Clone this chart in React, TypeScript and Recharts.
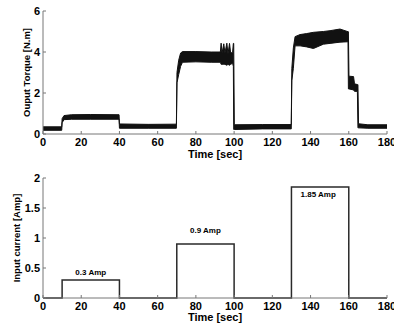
import { ComposedChart, Area, Line, XAxis, YAxis, ReferenceDot } from "recharts";

// top panel: torque envelope (lower / upper edge of the noisy trace)
const torqueTime = [
  0, 9.8, 10, 11, 15, 25, 39.8, 40, 55, 69.8,
  70.1, 71, 72, 73, 80, 88, 92.8, 93.2, 93.7, 94.6,
  95.2, 96.2, 96.8, 97.6, 98.2, 99.2, 99.6, 99.8, 100.1, 115,
  129.9, 130.2, 131, 131.9, 134.5, 138, 141.5, 146.7, 150.2, 155.4,
  159.6, 159.8, 160.1, 162.5, 163, 164.5, 164.8, 165.1, 170, 180,
];
const torqueLow = [
  0.18, 0.18, 0.55, 0.7, 0.72, 0.72, 0.72, 0.28, 0.28, 0.28,
  2.5, 2.9, 3.3, 3.5, 3.52, 3.5, 3.5, 3.4, 3.4, 3.4,
  3.4, 3.35, 3.4, 3.35, 3.4, 3.45, 3.3, 0.22, 0.22, 0.25,
  0.25, 2.6, 3.2, 4.3, 4.3, 4.25, 4.17, 4.38, 4.42, 4.48,
  4.5, 2.2, 2.2, 2.15, 2.08, 2.08, 0.3, 0.3, 0.28, 0.28,
];
const torqueHigh = [
  0.35, 0.35, 0.75, 0.9, 0.94, 0.95, 0.94, 0.49, 0.47, 0.48,
  3.0, 3.6, 3.95, 4.02, 4.02, 4.0, 4.0, 4.43, 3.95, 4.4,
  3.95, 4.43, 3.9, 4.42, 3.95, 3.98, 4.42, 4.42, 0.45, 0.46,
  0.46, 3.2, 4.2, 4.75, 4.85, 4.9, 4.96, 5.0, 5.04, 5.12,
  4.99, 4.99, 2.82, 2.8, 2.45, 2.41, 2.41, 0.5, 0.45, 0.45,
];

// bottom panel: step input current
const currentTime = [0, 10, 40, 70, 100, 130, 160, 180];
const currentAmp = [0, 0.3, 0, 0.9, 0, 1.85, 0, 0];

const noteX = [25, 85, 144];
const noteY = [0.43, 1.13, 1.73];
const noteText = ["0.3 Amp", "0.9 Amp", "1.85 Amp"];

const timeTicks = [0, 20, 40, 60, 80, 100, 120, 140, 160, 180];
const torqueTicks = [0, 2, 4, 6];
const currentTicks = [0, 0.5, 1, 1.5, 2];

const FONT = "'Liberation Sans', Arial, sans-serif";
const AXIS = "#777";
const tickStyle = { fill: "#000", fontSize: 11, fontWeight: 700, fontFamily: FONT };
const labelStyle = { fill: "#000", fontWeight: 700, fontFamily: FONT };

const torqueData = torqueTime.map((t, i) => ({ t, range: [torqueLow[i], torqueHigh[i]] }));
const currentData = currentTime.map((t, i) => ({ t, amp: currentAmp[i] }));

export default function App() {
  return (
    <div
      style={{ position: "absolute", left: 0, top: 0, width: 394, height: 323, background: "#fff", overflow: "hidden" }}
    >
      <div style={{ position: "absolute", left: 0, top: 0 }}>
        <ComposedChart width={394} height={160} data={torqueData} margin={{ top: 11, right: 7, left: 0, bottom: 0 }}>
          <XAxis
            dataKey="t"
            type="number"
            domain={[0, 180]}
            ticks={timeTicks}
            interval={0}
            height={26}
            stroke={AXIS}
            tickSize={-3}
            tickMargin={7}
            tick={tickStyle}
            label={{ value: "Time [sec]", position: "insideBottom", offset: 2, fontSize: 11, ...labelStyle }}
          />
          <XAxis xAxisId="top" orientation="top" type="number" domain={[0, 180]} ticks={timeTicks} height={0} stroke={AXIS} tickSize={-3} tick={false} />
          <YAxis
            type="number"
            domain={[0, 6]}
            ticks={torqueTicks}
            interval={0}
            width={43}
            stroke={AXIS}
            tickSize={-3}
            tickMargin={6}
            tick={tickStyle}
            label={{
              value: "Ouput Torque [N.m]",
              angle: -90,
              position: "insideLeft",
              offset: 27,
              fontSize: 9.5,
              ...labelStyle,
              style: { textAnchor: "middle" },
            }}
          />
          <YAxis yAxisId="right" orientation="right" type="number" domain={[0, 6]} ticks={torqueTicks} width={0} stroke={AXIS} tickSize={-3} tick={false} />
          <Area
            dataKey="range"
            type="linear"
            stroke="#111"
            strokeWidth={1}
            fill="#111"
            fillOpacity={1}
            isAnimationActive={false}
            dot={false}
            activeDot={false}
          />
        </ComposedChart>
      </div>
      <div style={{ position: "absolute", left: 0, top: 160 }}>
        <ComposedChart width={394} height={163} data={currentData} margin={{ top: 18, right: 7, left: 0, bottom: 0 }}>
          <XAxis
            dataKey="t"
            type="number"
            domain={[0, 180]}
            ticks={timeTicks}
            interval={0}
            height={25}
            stroke={AXIS}
            tickSize={-3}
            tickMargin={7}
            tick={tickStyle}
            label={{ value: "Time [sec]", position: "insideBottom", offset: 2, fontSize: 11, ...labelStyle }}
          />
          <XAxis
            xAxisId="top"
            orientation="top"
            type="number"
            domain={[0, 180]}
            ticks={timeTicks}
            height={0}
            stroke={AXIS}
            tickSize={-3}
            tick={false}
            label={{ value: "Input current at 500 rpm", position: "top", offset: 7, fontSize: 13, ...labelStyle }}
          />
          <YAxis
            type="number"
            domain={[0, 2]}
            ticks={currentTicks}
            interval={0}
            width={43}
            stroke={AXIS}
            tickSize={-3}
            tickMargin={6}
            tick={tickStyle}
            label={{
              value: "Input current [Amp]",
              angle: -90,
              position: "insideLeft",
              offset: 17,
              fontSize: 9.5,
              ...labelStyle,
              style: { textAnchor: "middle" },
            }}
          />
          <YAxis yAxisId="right" orientation="right" type="number" domain={[0, 2]} ticks={currentTicks} width={0} stroke={AXIS} tickSize={-3} tick={false} />
          <Line
            dataKey="amp"
            type="stepAfter"
            stroke="#2a2a2a"
            strokeWidth={1.5}
            dot={false}
            activeDot={false}
            isAnimationActive={false}
          />
          {noteX.map((x, i) => (
            <ReferenceDot
              key={i}
              x={x}
              y={noteY[i]}
              r={0}
              fill="none"
              stroke="none"
              label={{ value: noteText[i], position: "center", fontSize: 8, ...labelStyle }}
            />
          ))}
        </ComposedChart>
      </div>
    </div>
  );
}
